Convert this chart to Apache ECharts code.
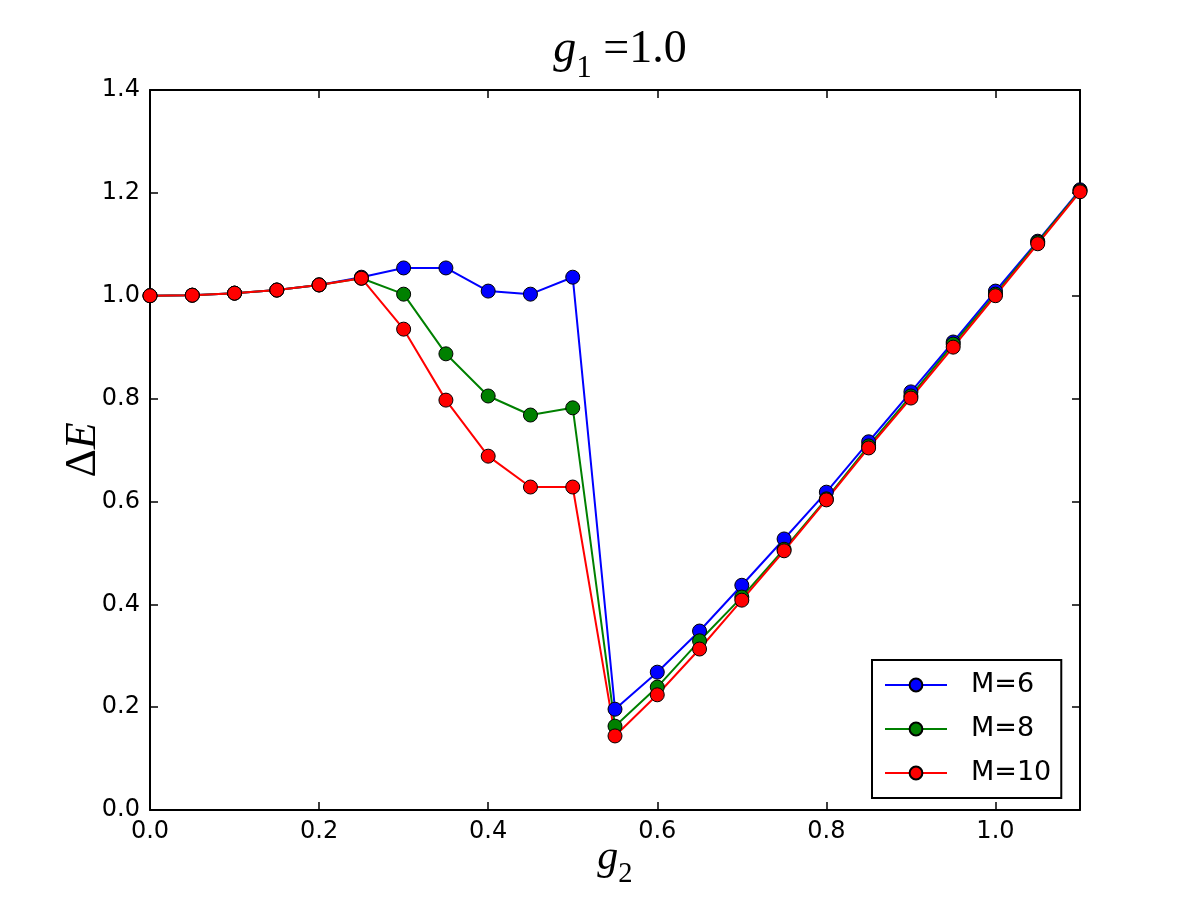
<!DOCTYPE html>
<html>
<head>
<meta charset="utf-8">
<title>g1 = 1.0</title>
<script src="https://cdn.jsdelivr.net/npm/echarts@6/dist/echarts.min.js"></script>
<style>
  html, body { margin: 0; padding: 0; background: #fff; }
  #chart { width: 1200px; height: 900px; }
</style>
</head>
<body>
<div id="chart"></div>
<script>
// g2 values (x)
const g2 = [0.0, 0.05, 0.1, 0.15, 0.2, 0.25, 0.3, 0.35, 0.4, 0.45, 0.5, 0.55,
            0.6, 0.65, 0.7, 0.75, 0.8, 0.85, 0.9, 0.95, 1.0, 1.05, 1.1];

// ΔE per truncation M
const m6 = [1.000, 1.001, 1.005, 1.011, 1.021, 1.036, 1.054, 1.054, 1.009, 1.003, 1.036, 0.196,
            0.268, 0.348, 0.437, 0.527, 0.618, 0.716, 0.813, 0.910, 1.009, 1.106, 1.206];
const m8 = [1.000, 1.001, 1.005, 1.011, 1.021, 1.034, 1.003, 0.887, 0.805, 0.768, 0.782, 0.163,
            0.239, 0.329, 0.414, 0.507, 0.605, 0.708, 0.805, 0.906, 1.003, 1.104, 1.204];
const m10 = [1.000, 1.001, 1.005, 1.011, 1.021, 1.034, 0.935, 0.797, 0.688, 0.628, 0.628, 0.144,
             0.224, 0.313, 0.408, 0.504, 0.603, 0.704, 0.801, 0.900, 1.000, 1.101, 1.202];

const seriesNames = ['M=6', 'M=8', 'M=10'];
const seriesColors = ['#0000ff', '#008000', '#ff0000'];
const seriesValues = [m6, m8, m10];

const chart = echarts.init(document.getElementById('chart'));

const tickFont = { fontFamily: 'DejaVu Sans', fontSize: 24, color: '#000' };

// math-like text: italic letter, upright digits, lowered subscript
const mathRich = (size) => ({
  i: { fontFamily: 'Liberation Serif', fontStyle: 'italic', fontWeight: 'normal', fontSize: size, lineHeight: size * 1.5, color: '#000' },
  n: { fontFamily: 'Liberation Serif', fontWeight: 'normal', fontSize: size, lineHeight: size * 1.5, color: '#000' },
  s: { fontFamily: 'Liberation Serif', fontWeight: 'normal', fontSize: size * 0.68, lineHeight: size * 0.68, verticalAlign: 'bottom', color: '#000' }
});

// common look of the box-style axes (ticks inside, black frame)
const frameAxis = (extra) => Object.assign({
  type: 'value',
  axisLine: { show: true, onZero: false, lineStyle: { color: '#000', width: 2 } },
  axisTick: { show: true, inside: true, length: 8, lineStyle: { color: '#000', width: 1.5 } },
  splitLine: { show: false }
}, extra);

const option = {
  backgroundColor: '#fff',
  animation: false,
  title: {
    text: '{i|g}{s|1}{n| =1.0}',
    left: 615,
    textAlign: 'center',
    top: 10,
    textStyle: { fontWeight: 'normal', rich: mathRich(46) }
  },
  legend: {
    orient: 'vertical',
    left: 872,
    top: 660,
    padding: [10, 10, 10, 12],
    itemGap: 14,
    itemWidth: 62,
    itemHeight: 16,
    borderColor: '#000',
    borderWidth: 2,
    backgroundColor: '#fff',
    textStyle: { fontFamily: 'DejaVu Sans', fontSize: 27, color: '#000', lineHeight: 30, padding: [0, 0, 0, 19] },
    data: seriesNames
  },
  grid: { left: 150, right: 120, top: 90, bottom: 90, outerBoundsMode: 'none', containLabel: false },
  xAxis: [
    frameAxis({
      position: 'bottom',
      min: 0, max: 1.1, interval: 0.2,
      name: '{i|g}{s|2}',
      nameLocation: 'middle',
      nameGap: 16,
      nameMoveOverlap: false,
      nameTextStyle: { rich: mathRich(42) },
      axisLabel: Object.assign({ margin: 10, showMaxLabel: false, formatter: (v) => v.toFixed(1) }, tickFont)
    }),
    frameAxis({
      position: 'top',
      min: 0, max: 1.1, interval: 0.2,
      axisLabel: { show: false }
    })
  ],
  yAxis: [
    frameAxis({
      position: 'left',
      min: 0, max: 1.4, interval: 0.2,
      name: '{n|Δ}{i|E}',
      nameLocation: 'middle',
      nameRotate: 90,
      nameGap: 34,
      nameMoveOverlap: false,
      nameTextStyle: { rich: mathRich(44) },
      axisLabel: Object.assign({ margin: 10, formatter: (v) => v.toFixed(1) }, tickFont)
    }),
    frameAxis({
      position: 'right',
      min: 0, max: 1.4, interval: 0.2,
      axisLabel: { show: false }
    })
  ],
  series: seriesNames.map((name, k) => ({
    name: name,
    type: 'line',
    xAxisIndex: 0,
    yAxisIndex: 0,
    data: g2.map((x, i) => [x, seriesValues[k][i]]),
    symbol: 'circle',
    symbolSize: 14,
    showAllSymbol: true,
    clip: false,
    color: seriesColors[k],
    lineStyle: { color: seriesColors[k], width: 2 },
    itemStyle: { color: seriesColors[k], borderColor: '#000', borderWidth: 1 },
    emphasis: { disabled: true }
  }))
};

chart.setOption(option);
</script>
</body>
</html>
